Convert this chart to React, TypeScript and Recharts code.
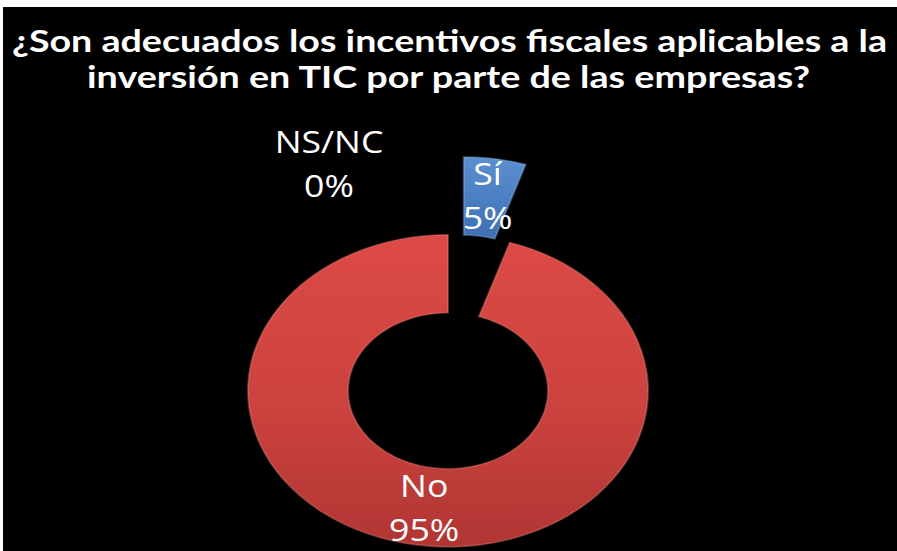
import React from "react";
import { PieChart, Pie, Cell } from "recharts";

// survey answers, in the order they sit on the ring (clockwise from 12 o'clock)
const answers = ["Sí", "No", "NS/NC"];
const shares = [5, 95, 0];
const exploded = ["Sí"];

const titleLines = [
  "¿Son adecuados los incentivos fiscales aplicables a la",
  "inversión en TIC por parte de las empresas?",
];

const SLICE_FILL: Record<string, string> = {
  Sí: "url(#blueFill)",
  No: "url(#redFill)",
  "NS/NC": "#7f7f7f",
};

// the original is a tilted (3D) doughnut, so the chart is squashed vertically
const TILT = 0.78;
const CHART_W = 897;
const CHART_H = Math.round(551 / TILT);
const CX = 443;
const CY = 496;
const OUTER = 200;
const INNER = 100;
const EXPLODE = 101;

const pieData = answers.map((name, i) => ({ name, value: shares[i] }));

const midOf = (a: string) => {
  // centre angle of a slice, same convention as recharts (deg, ccw from 3 o'clock)
  const total = shares.reduce((s, v) => s + v, 0);
  let start = 90;
  for (let i = 0; i < answers.length; i++) {
    const sweep = (shares[i] / total) * 360;
    if (answers[i] === a) return start - sweep / 2;
    start -= sweep;
  }
  return 90;
};

const RADIAN = Math.PI / 180;
const expAngle = midOf("Sí");
const EX_CX = CX + EXPLODE * Math.cos(expAngle * RADIAN);
const EX_CY = CY - EXPLODE * Math.sin(expAngle * RADIAN);

function SliceLabel(props: any, only: string[]) {
  const { cx, cy, midAngle, innerRadius, outerRadius, name, value } = props;
  if (!only.includes(name)) return <g />;
  const r = (innerRadius + outerRadius) / 2 + 2;
  let x = cx + r * Math.cos(-midAngle * RADIAN);
  let y = cy + r * Math.sin(-midAngle * RADIAN);
  if (value === 0) {
    // empty answer: Excel puts it outside, up and to the left
    x = cx - 119;
    y = cy - 291;
  }
  return (
    <text
      transform={`translate(${x},${y}) scale(1.15,${1 / TILT})`}
      textAnchor="middle"
      fill="#ffffff"
      fontFamily="'Open Sans', 'DejaVu Sans', sans-serif"
      fontSize={31}
    >
      <tspan x={0} y={-11}>
        {name}
      </tspan>
      <tspan x={0} y={33}>
        {`${value}%`}
      </tspan>
    </text>
  );
}

export default function App() {
  return (
    <div
      style={{
        position: "fixed",
        left: 0,
        top: 0,
        width: 897,
        height: 551,
        background: "#ffffff",
        overflow: "hidden",
      }}
    >
      <div
        style={{
          position: "absolute",
          left: 3,
          top: 7,
          right: 0,
          bottom: 0,
          background: "#000000",
        }}
      />
      <svg
        width={897}
        height={110}
        style={{ position: "absolute", left: 0, top: 0 }}
      >
        {titleLines.map((line, i) => (
          <text
            key={i}
            x={i === 0 ? 449.5 : 448.5}
            y={i === 0 ? 52 : 88}
            textAnchor="middle"
            textLength={i === 0 ? 875 : 723}
            lengthAdjust="spacingAndGlyphs"
            fill="#ffffff"
            fontFamily="Lato, 'Open Sans', sans-serif"
            fontWeight={700}
            fontSize={30}
          >
            {line}
          </text>
        ))}
      </svg>
      <div
        style={{
          position: "absolute",
          left: 0,
          top: 0,
          width: CHART_W,
          height: CHART_H,
          transform: `scaleY(${TILT})`,
          transformOrigin: "0 0",
        }}
      >
        <PieChart width={CHART_W} height={CHART_H}>
          <defs>
            <linearGradient id="redFill" x1="0" y1="0" x2="0" y2="1">
              <stop offset="0%" stopColor="#dc4a46" />
              <stop offset="55%" stopColor="#cc423e" />
              <stop offset="100%" stopColor="#b03634" />
            </linearGradient>
            <linearGradient id="blueFill" x1="0" y1="0" x2="0" y2="1">
              <stop offset="0%" stopColor="#5b8fd0" />
              <stop offset="100%" stopColor="#3d70b3" />
            </linearGradient>
          </defs>
          <Pie
            data={pieData}
            dataKey="value"
            nameKey="name"
            cx={CX}
            cy={CY}
            innerRadius={INNER}
            outerRadius={OUTER}
            startAngle={90}
            endAngle={-270}
            stroke="none"
            labelLine={false}
            label={(p: any) => SliceLabel(p, ["No", "NS/NC"])}
            isAnimationActive={false}
          >
            {pieData.map((d) => (
              <Cell
                key={d.name}
                fill={exploded.includes(d.name) ? "none" : SLICE_FILL[d.name]}
                stroke={
                  exploded.includes(d.name) || d.value === 0
                    ? "none"
                    : "rgba(255,140,130,0.35)"
                }
                strokeWidth={2}
              />
            ))}
          </Pie>
          <Pie
            data={pieData}
            dataKey="value"
            nameKey="name"
            cx={EX_CX}
            cy={EX_CY}
            innerRadius={INNER}
            outerRadius={OUTER}
            startAngle={90}
            endAngle={-270}
            stroke="none"
            labelLine={false}
            label={(p: any) => SliceLabel(p, exploded)}
            isAnimationActive={false}
          >
            {pieData.map((d) => (
              <Cell
                key={d.name}
                fill={exploded.includes(d.name) ? SLICE_FILL[d.name] : "none"}
                stroke={
                  exploded.includes(d.name) ? "rgba(140,180,235,0.4)" : "none"
                }
                strokeWidth={2}
              />
            ))}
          </Pie>
        </PieChart>
      </div>
    </div>
  );
}
